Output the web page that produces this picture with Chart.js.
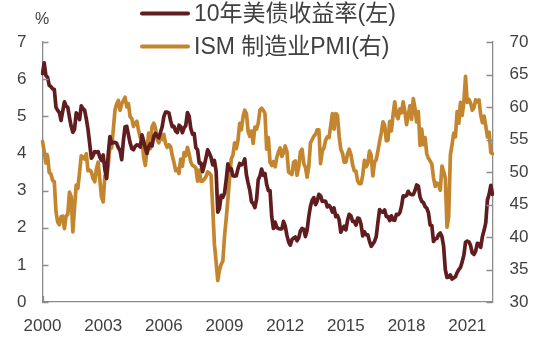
<!DOCTYPE html>
<html>
<head>
<meta charset="utf-8">
<script src="https://cdn.jsdelivr.net/npm/chart.js@4.4.0/dist/chart.umd.min.js"></script>
<style>
  html, body { margin: 0; padding: 0; background: #fff; }
  #wrap { width: 552px; height: 338px; position: relative; }
</style>
</head>
<body>
<div id="wrap"><canvas id="myChart"></canvas></div>
<script>
// monthly, Apr 2000 - Jul 2022
var yield10y = [
  6.15, 6.44, 6.10, 6.05, 5.83, 5.80, 5.74, 5.72, 5.24,
  5.16, 5.10, 4.89, 5.14, 5.39, 5.28, 5.24, 4.97, 4.73, 4.57, 4.65, 5.09,
  5.04, 4.91, 5.28, 5.21, 5.16, 4.93, 4.65, 4.26, 3.87, 3.94, 4.05, 4.03,
  4.05, 3.90, 3.81, 3.96, 3.57, 3.33, 3.98, 4.45, 4.27, 4.29, 4.30, 4.27,
  4.15, 4.08, 3.83, 4.35, 4.72, 4.73, 4.50, 4.28, 4.13, 4.10, 4.19, 4.23,
  4.22, 4.17, 4.50, 4.34, 4.14, 4.00, 4.18, 4.26, 4.20, 4.46, 4.54, 4.47,
  4.42, 4.57, 4.72, 4.99, 5.11, 5.11, 5.09, 4.88, 4.72, 4.73, 4.60, 4.56,
  4.76, 4.72, 4.56, 4.69, 4.75, 5.10, 5.00, 4.67, 4.52, 4.53, 4.15, 4.10,
  3.74, 3.74, 3.51, 3.68, 3.88, 4.10, 4.01, 3.89, 3.69, 3.81, 3.53, 2.42,
  2.52, 2.87, 2.82, 2.93, 3.29, 3.72, 3.56, 3.59, 3.40, 3.39, 3.40, 3.59,
  3.73, 3.69, 3.73, 3.85, 3.42, 3.20, 3.01, 2.70, 2.65, 2.54, 2.76, 3.29,
  3.39, 3.58, 3.41, 3.46, 3.17, 3.00, 3.00, 2.30, 1.98, 2.15, 2.01, 1.98,
  1.97, 1.97, 2.17, 2.05, 1.80, 1.62, 1.53, 1.68, 1.72, 1.75, 1.65, 1.72,
  1.91, 1.98, 1.96, 1.76, 1.93, 2.30, 2.58, 2.74, 2.81, 2.62, 2.72, 2.90,
  2.86, 2.71, 2.72, 2.71, 2.56, 2.60, 2.54, 2.42, 2.53, 2.30, 2.33, 2.21,
  1.88, 1.98, 2.04, 1.94, 2.20, 2.36, 2.32, 2.17, 2.17, 2.07, 2.26, 2.24,
  2.09, 1.78, 1.89, 1.81, 1.81, 1.64, 1.50, 1.56, 1.63, 1.76, 2.14, 2.49,
  2.43, 2.42, 2.48, 2.30, 2.30, 2.19, 2.32, 2.21, 2.20, 2.36, 2.35, 2.40,
  2.58, 2.86, 2.84, 2.87, 2.98, 2.91, 2.89, 2.89, 3.00, 3.15, 3.12, 2.83,
  2.71, 2.68, 2.57, 2.53, 2.40, 2.07, 2.06, 1.63, 1.70, 1.71, 1.81, 1.86,
  1.76, 1.50, 0.87, 0.66, 0.67, 0.73, 0.62, 0.65, 0.68, 0.79, 0.87, 0.93,
  1.08, 1.26, 1.61, 1.64, 1.62, 1.52, 1.32, 1.28, 1.37, 1.58, 1.56, 1.47,
  1.76, 1.93, 2.13, 2.75, 2.90, 3.14, 2.90
];
var ismPmi = [
  54.7, 53.2, 51.4, 52.5, 49.9, 49.7, 48.7, 48.5, 43.9,
  42.3, 41.9, 43.1, 43.2, 41.3, 43.2, 43.5, 46.9, 46.2, 40.8, 44.5, 48.0,
  47.5, 50.0, 52.5, 52.3, 52.0, 52.8, 50.2, 50.3, 50.0, 49.0, 48.5, 50.5,
  51.5, 48.9, 46.2, 45.4, 49.4, 49.0, 51.0, 54.0, 53.7, 56.5, 59.5, 60.5,
  61.0, 59.5, 60.5, 61.0, 61.5, 60.0, 60.5, 58.5, 58.2, 57.0, 57.5, 57.8,
  56.4, 55.3, 55.2, 52.3, 51.0, 53.5, 56.0, 53.6, 57.0, 57.5, 56.8, 55.0,
  54.5, 55.6, 55.0, 55.8, 54.4, 53.8, 54.2, 53.9, 52.5, 51.5, 50.2, 50.5,
  49.8, 52.0, 50.9, 53.0, 52.5, 53.8, 52.8, 51.5, 51.0, 50.9, 50.6, 48.6,
  50.3, 48.6, 48.6, 48.9, 49.3, 50.0, 49.8, 49.5, 44.5, 38.9, 36.2, 33.3,
  34.9, 35.8, 36.3, 40.1, 42.8, 45.8, 49.1, 52.0, 52.6, 54.5, 53.6, 54.9,
  57.5, 56.5, 58.5, 59.5, 59.0, 56.2, 55.5, 56.3, 54.4, 56.9, 56.6, 57.5,
  59.5, 59.8, 59.5, 59.0, 53.5, 55.3, 51.5, 51.0, 51.6, 50.8, 52.2, 53.1,
  53.7, 52.4, 53.0, 54.0, 53.2, 50.0, 49.8, 49.6, 51.5, 51.7, 49.5, 50.7,
  53.1, 53.5, 51.3, 50.7, 49.2, 50.9, 54.5, 55.0, 55.5, 55.8, 56.5, 56.5,
  51.3, 53.2, 53.7, 54.9, 55.4, 55.3, 57.1, 59.0, 56.6, 59.0, 58.7, 55.5,
  53.5, 52.9, 51.5, 51.5, 52.8, 53.5, 52.7, 51.1, 50.2, 50.1, 48.6, 48.2,
  48.2, 49.5, 51.8, 50.8, 51.3, 53.2, 52.6, 49.4, 51.5, 51.9, 53.2, 54.7,
  56.0, 57.7, 57.2, 54.8, 54.9, 57.8, 56.3, 58.8, 60.8, 58.7, 58.2, 59.7,
  59.1, 60.8, 59.3, 57.3, 58.7, 60.2, 58.1, 61.3, 59.8, 57.7, 59.3, 54.1,
  56.6, 54.2, 55.3, 52.8, 52.1, 51.7, 51.2, 49.1, 47.8, 48.3, 48.1, 47.2,
  50.9, 50.1, 49.1, 41.5, 43.1, 52.6, 54.2, 56.0, 55.4, 59.3, 57.5, 60.7,
  58.7, 60.8, 64.7, 60.7, 61.2, 60.6, 59.5, 59.9, 61.1, 60.8, 61.1, 58.8,
  57.6, 58.6, 57.1, 55.4, 56.1, 53.0, 52.8
];
var seriesNames = ['10年美债收益率(左)', 'ISM 制造业PMI(右)'];
var leftTicks = [0, 1, 2, 3, 4, 5, 6, 7];
var rightTicks = [30, 35, 40, 45, 50, 55, 60, 65, 70];

// month categories, starting Apr 2000
var months = [];
for (var i = 0; i < yield10y.length; i++) {
  var m = 3 + i;
  months.push((2000 + Math.floor(m / 12)) + '-' + String(m % 12 + 1).padStart(2, '0'));
}

var red = '#5f1d1f';
var gold = '#c3862f';
var axisColor = '#8c8c8c';
var textColor = '#404040';
var latin = '"Liberation Sans", Arial, "Noto Sans CJK SC", sans-serif';

// ticks drawn inward + legend + unit label
var decor = {
  id: 'decor',
  afterDraw: function(chart) {
    var ctx = chart.ctx, a = chart.chartArea, s = chart.scales;
    ctx.save();
    ctx.strokeStyle = axisColor;
    ctx.lineWidth = 1.3;
    ctx.beginPath();
    s.y.ticks.forEach(function(t) {
      var y = Math.round(s.y.getPixelForValue(t.value)) + 0.5;
      ctx.moveTo(a.left, y); ctx.lineTo(a.left + 6, y);
    });
    s.y1.ticks.forEach(function(t) {
      var y = Math.round(s.y1.getPixelForValue(t.value)) + 0.5;
      ctx.moveTo(a.right, y); ctx.lineTo(a.right - 6, y);
    });
    s.x.ticks.forEach(function(t, idx) {
      if (idx % 36 !== 0) return;
      var x = Math.round(s.x.getPixelForValue(idx)) + 0.5;
      ctx.moveTo(x, a.bottom); ctx.lineTo(x, a.bottom - 6);
    });
    ctx.stroke();

    ctx.fillStyle = textColor;
    ctx.font = '16px ' + latin;
    ctx.textAlign = 'center';
    ctx.textBaseline = 'middle';
    ctx.fillText('%', 42, 20);

    var rows = [13.5, 46.5];
    ctx.font = '23px ' + latin;
    ctx.textAlign = 'left';
    chart.data.datasets.forEach(function(ds, k) {
      ctx.strokeStyle = ds.borderColor;
      ctx.lineWidth = 4;
      ctx.lineCap = 'round';
      ctx.beginPath();
      ctx.moveTo(142, rows[k]); ctx.lineTo(188, rows[k]);
      ctx.stroke();
      ctx.fillStyle = textColor;
      ctx.fillText(ds.label, 194, rows[k] + 1);
    });
    ctx.restore();
  }
};

var ctx = document.getElementById('myChart').getContext('2d');
var chart = new Chart(ctx, {
  type: 'line',
  data: {
    labels: months,
    datasets: [{
      label: seriesNames[0],
      data: yield10y,
      yAxisID: 'y',
      borderColor: red,
      backgroundColor: red,
      borderWidth: 3.7,
      pointRadius: 0,
      tension: 0,
      borderJoinStyle: 'round',
      borderCapStyle: 'round'
    }, {
      label: seriesNames[1],
      data: ismPmi,
      yAxisID: 'y1',
      borderColor: gold,
      backgroundColor: gold,
      borderWidth: 3.7,
      pointRadius: 0,
      tension: 0,
      borderJoinStyle: 'round',
      borderCapStyle: 'round'
    }]
  },
  options: {
    responsive: true,
    maintainAspectRatio: false,
    animation: false,
    layout: { padding: { left: 0, right: 0, top: 42, bottom: 0 } },
    plugins: { legend: { display: false }, tooltip: { enabled: false } },
    scales: {
      x: {
        type: 'category',
        offset: false,
        grid: { display: false, drawTicks: false },
        border: { display: true, color: axisColor, width: 1.3 },
        afterFit: function(sc) { sc.height = 36; },
        ticks: {
          autoSkip: false,
          maxRotation: 0,
          minRotation: 0,
          padding: 14,
          color: textColor,
          font: { family: latin, size: 17 },
          callback: function(v, idx) { return idx % 36 === 0 ? months[idx].slice(0, 4) : null; }
        }
      },
      y: {
        position: 'left',
        min: leftTicks[0],
        max: leftTicks[leftTicks.length - 1],
        afterBuildTicks: function(sc) { sc.ticks = leftTicks.map(function(v) { return { value: v }; }); },
        afterFit: function(sc) { sc.width = 42.5; },
        grid: { display: false, drawTicks: false },
        border: { display: true, color: axisColor, width: 1.3 },
        ticks: { padding: 16, color: textColor, font: { family: latin, size: 17 } }
      },
      y1: {
        position: 'right',
        min: rightTicks[0],
        max: rightTicks[rightTicks.length - 1],
        afterBuildTicks: function(sc) { sc.ticks = rightTicks.map(function(v) { return { value: v }; }); },
        afterFit: function(sc) { sc.width = 59.5; },
        grid: { display: false, drawTicks: false },
        border: { display: true, color: axisColor, width: 1.3 },
        ticks: { padding: 17, color: textColor, font: { family: latin, size: 17 } }
      }
    }
  },
  plugins: [decor]
});
</script>
</body>
</html>
